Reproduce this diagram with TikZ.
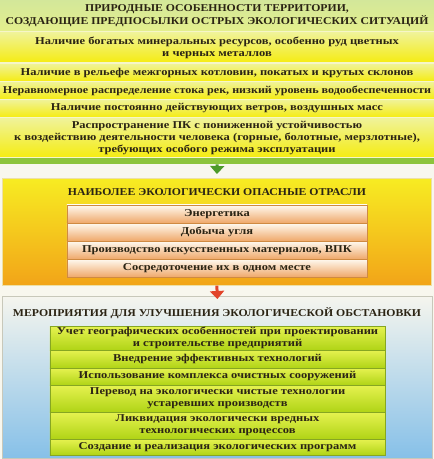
\documentclass[tikz,border=0pt]{standalone}
\usepackage{fontspec}
\setmainfont[FakeStretch=1.19]{Liberation Serif}
\newfontfamily\capsfont[FakeStretch=1.12]{Liberation Serif}
\newfontfamily\narrowfont[FakeStretch=1.15]{Liberation Serif}
\usetikzlibrary{arrows.meta}
\definecolor{txt}{HTML}{2B2414}
\definecolor{pagebg}{HTML}{F8F7EE}
\definecolor{ttlA}{HTML}{D3E79A}
\definecolor{ttlB}{HTML}{E4EF8C}
\definecolor{yA}{HTML}{F0F39A}
\definecolor{yB}{HTML}{F5EC10}
\definecolor{ysep}{HTML}{F6F6C8}
\definecolor{gband}{HTML}{8CC43C}
\definecolor{midA}{HTML}{F7EC22}
\definecolor{midB}{HTML}{F2A418}
\definecolor{midline}{HTML}{EDE0A6}
\definecolor{oA}{HTML}{FFFAF0}
\definecolor{oM}{HTML}{FBE7CC}
\definecolor{oB}{HTML}{EFA86A}
\definecolor{oline}{HTML}{CF8A42}
\definecolor{botA}{HTML}{F5F5EE}
\definecolor{botB}{HTML}{86C0E8}
\definecolor{botline}{HTML}{C8C8BA}
\definecolor{gA}{HTML}{E6F250}
\definecolor{gM}{HTML}{D0E62A}
\definecolor{gB}{HTML}{B0D416}
\definecolor{gline}{HTML}{86A622}
\definecolor{arrG}{HTML}{4D9A2A}
\definecolor{arrR}{HTML}{E2442A}
\begin{document}
\begin{tikzpicture}[x=1bp,y=-1bp,
  every node/.style={font=\bfseries\fontsize{10.5bp}{12bp}\selectfont, text=txt, inner sep=0pt, align=center},
  capstext/.style={font=\capsfont\bfseries\fontsize{10.5bp}{12.5bp}\selectfont},
  secbox/.style={anchor=north west, draw=none},
  yrow/.style={minimum width=436bp, top color=yA, bottom color=yB, draw=ysep, line width=1bp},
  orow/.style={minimum width=300bp, top color=oA, middle color=oM, bottom color=oB, draw=oline, line width=0.6bp},
  greenrow/.style={minimum width=335bp, top color=gA, middle color=gM, bottom color=gB, draw=gline, line width=0.6bp},
  connG/.style={draw=arrG, line width=3bp, -{Triangle[width=14bp,length=8bp]}, shorten >=4bp},
  connR/.style={draw=arrR, line width=3bp, -{Triangle[width=14bp,length=8bp]}, shorten >=-3bp}
]
\useasboundingbox (0,0) rectangle (434,459);
\fill[pagebg] (0,0) rectangle (434,459);

% top section
\node[secbox, fill=gband, minimum width=434bp, minimum height=164bp] (top) at (0,0) {};
\node[capstext, minimum width=436bp, minimum height=32bp, top color=ttlA, bottom color=ttlB] (t0) at (217,15.5)
  {ПРИРОДНЫЕ ОСОБЕННОСТИ ТЕРРИТОРИИ,\\СОЗДАЮЩИЕ ПРЕДПОСЫЛКИ ОСТРЫХ ЭКОЛОГИЧЕСКИХ СИТУАЦИЙ};
\node[yrow, minimum height=31bp] (r1) at (217,47.5)
  {Наличие богатых минеральных ресурсов, особенно руд цветных\\и черных металлов};
\node[yrow, minimum height=18bp] (r2) at (217,72.5)
  {Наличие в рельефе межгорных котловин, покатых и крутых склонов};
\node[yrow, minimum height=18bp, font=\narrowfont\bfseries\fontsize{10.5bp}{12bp}\selectfont] (r3) at (217,90.5)
  {Неравномерное распределение стока рек, низкий уровень водообеспеченности};
\node[yrow, minimum height=18bp] (r4) at (217,108.5)
  {Наличие постоянно действующих ветров, воздушных масс};
\node[yrow, minimum height=40bp] (r5) at (217,138)
  {Распространение ПК с пониженной устойчивостью\\к воздействию деятельности человека (горные, болотные, мерзлотные),\\требующих особого режима эксплуатации};

% middle section
\node[secbox, top color=midA, bottom color=midB, draw=midline, line width=0.6bp,
  minimum width=429bp, minimum height=107bp] (mid) at (2,178) {};
\node[capstext] (m0) at (217,192.5) {НАИБОЛЕЕ ЭКОЛОГИЧЕСКИ ОПАСНЫЕ ОТРАСЛИ};
\node[orow, minimum height=18bp] (o1) at (217,214) {Энергетика};
\node[orow, minimum height=18bp] (o2) at (217,232) {Добыча угля};
\node[orow, minimum height=18bp] (o3) at (217,250) {Производство искусственных материалов, ВПК};
\node[orow, minimum height=18bp] (o4) at (217,268) {Сосредоточение их в одном месте};

% bottom section
\node[secbox, top color=botA, bottom color=botB, draw=botline, line width=0.6bp,
  minimum width=430bp, minimum height=162bp] (bot) at (2,296) {};
\node[capstext] (b0) at (217,313) {МЕРОПРИЯТИЯ ДЛЯ УЛУЧШЕНИЯ ЭКОЛОГИЧЕСКОЙ ОБСТАНОВКИ};
\node[greenrow, minimum height=24bp] (g1) at (217.5,338)
  {Учет географических особенностей при проектировании\\и строительстве предприятий};
\node[greenrow, minimum height=18bp] (g2) at (217.5,359) {Внедрение эффективных технологий};
\node[greenrow, minimum height=17bp] (g3) at (217.5,376.5) {Использование комплекса очистных сооружений};
\node[greenrow, minimum height=27bp] (g4) at (217.5,398.5)
  {Перевод на экологически чистые технологии\\устаревших производств};
\node[greenrow, minimum height=27bp] (g5) at (217.5,425.5)
  {Ликвидация экологически вредных\\технологических процессов};
\node[greenrow, minimum height=16bp] (g6) at (217.5,447) {Создание и реализация экологических программ};

% connectors
\draw[connG] (top.south) -- (mid.north);
\draw[connR] (mid.south) -- (bot.north);
\end{tikzpicture}
\end{document}
